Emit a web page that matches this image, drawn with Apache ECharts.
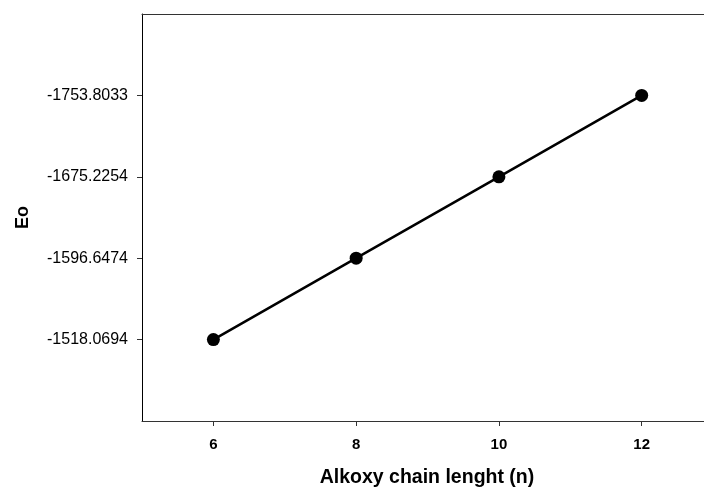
<!DOCTYPE html>
<html>
<head>
<meta charset="utf-8">
<script src="https://cdn.jsdelivr.net/npm/echarts@6/dist/echarts.min.js"></script>
<style>
html,body{margin:0;padding:0;background:#fff;}
#chart{width:704px;height:493px;}
</style>
</head>
<body>
<div id="chart"></div>
<script>
const chainLength = [6, 8, 10, 12];
const eoValues = [-1518.0694, -1596.6474, -1675.2254, -1753.8033];
const xTicks = [6, 8, 10, 12];
const yTicks = [-1518.0694, -1596.6474, -1675.2254, -1753.8033];
const xRange = [5, 12.873];
const yRange = [-1832.3813, -1439.4914];

const chart = echarts.init(document.getElementById('chart'));
const fontFam = 'Liberation Sans, Arial, sans-serif';
chart.setOption({
  animation: false,
  backgroundColor: '#fff',
  grid: {left: 142, right: 0, top: 14, bottom: 69, containLabel: false},
  xAxis: [{
    type: 'value', min: xRange[0], max: xRange[1],
    name: 'Alkoxy chain lenght (n)', nameLocation: 'middle', nameGap: 47,
    nameTextStyle: {fontFamily: fontFam, fontWeight: 'bold', fontSize: 19.5, color: '#000', padding: [0, 0, 0, 8]},
    axisLine: {show: true, lineStyle: {color: '#333', width: 1}},
    axisTick: {show: true, length: 5, customValues: xTicks, lineStyle: {color: '#333'}},
    axisLabel: {customValues: xTicks, margin: 16, fontFamily: fontFam, fontWeight: 'bold', fontSize: 15, color: '#000'},
    splitLine: {show: false}
  }, {
    type: 'value', position: 'top', min: xRange[0], max: xRange[1],
    axisLine: {show: true, onZero: false, lineStyle: {color: '#333', width: 1}},
    axisTick: {show: false}, axisLabel: {show: false}, splitLine: {show: false}
  }],
  yAxis: {
    type: 'value', inverse: true, min: yRange[0], max: yRange[1],
    name: 'Eo', nameLocation: 'middle', nameGap: 110,
    nameTextStyle: {fontFamily: fontFam, fontWeight: 'bold', fontSize: 18, color: '#000'},
    axisLine: {show: true, onZero: false, lineStyle: {color: '#000', width: 1}},
    axisTick: {show: true, length: 5, customValues: yTicks, lineStyle: {color: '#333'}},
    axisLabel: {customValues: yTicks, margin: 14, fontFamily: fontFam, fontSize: 16, color: '#000',
      formatter: v => v.toFixed(4)},
    splitLine: {show: false}
  },
  series: [{
    type: 'line',
    data: chainLength.map((x, i) => [x, eoValues[i]]),
    symbol: 'circle', symbolSize: 13,
    itemStyle: {color: '#000'},
    lineStyle: {color: '#000', width: 2.5},
    z: 3
  }]
});
</script>
</body>
</html>
